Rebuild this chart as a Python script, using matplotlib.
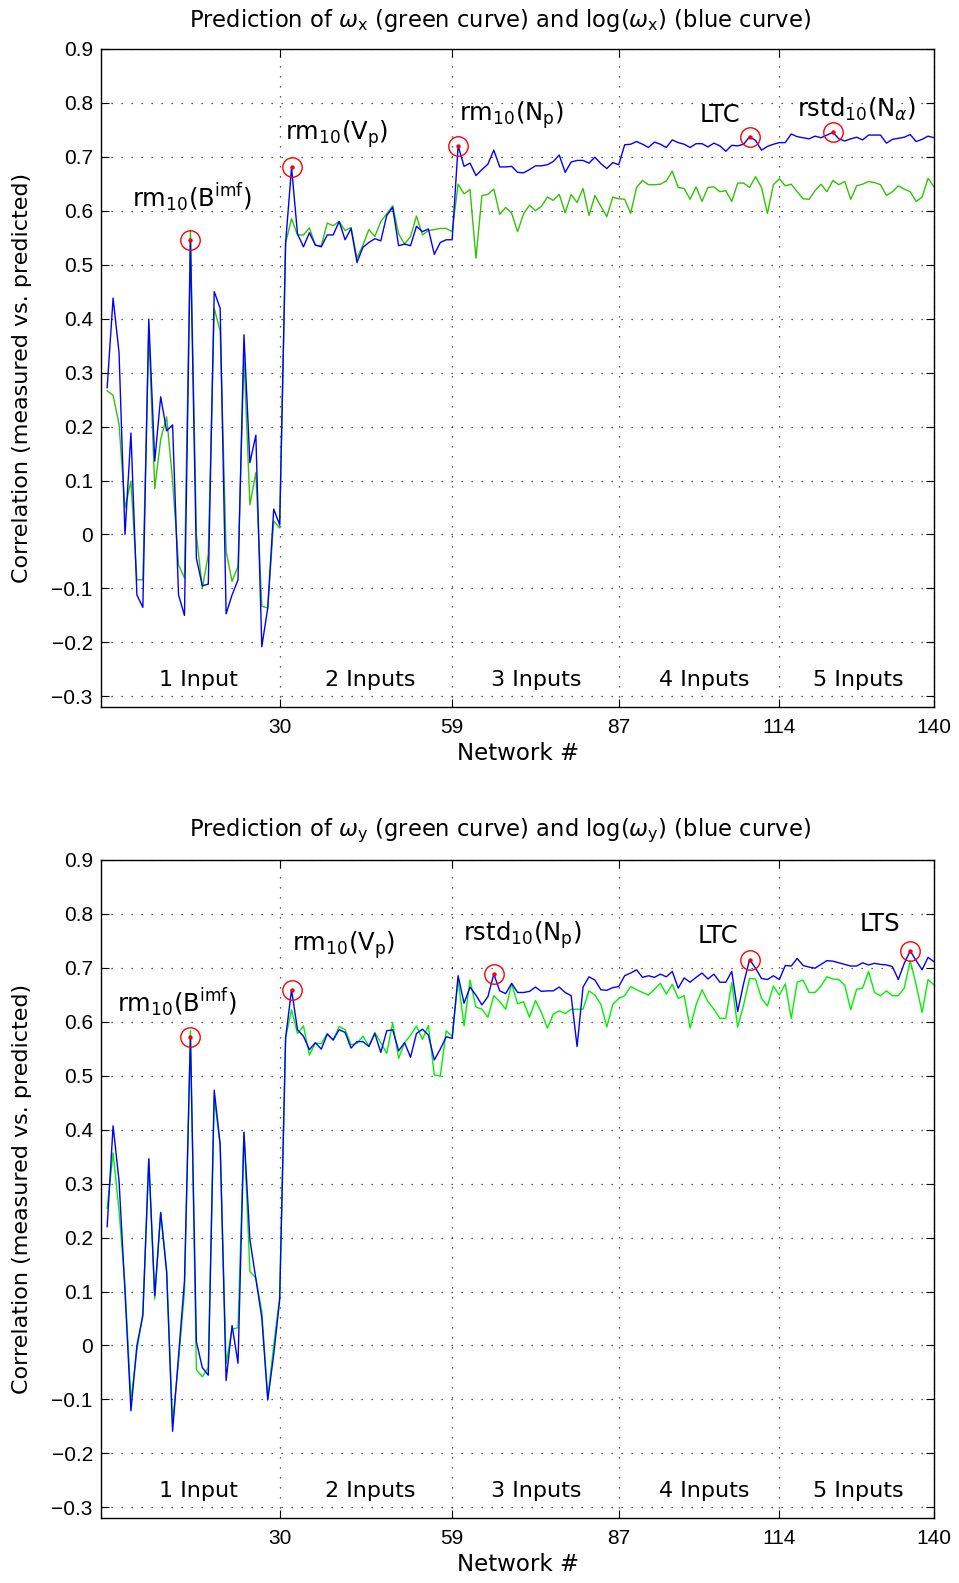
import matplotlib
matplotlib.use("Agg")
import matplotlib.pyplot as plt
import numpy as np

plt.rcParams['font.family'] = ['DejaVu Sans']
plt.rcParams['mathtext.fontset'] = 'dejavusans'

# ---------------- data ----------------
networks = list(range(1, 141))

# top panel: omega_x
blue_x = [0.272, 0.438, 0.337, 0.000, 0.188, -0.112, -0.135, 0.399, 0.136, 0.255,
          0.192, 0.203, -0.112, -0.150, 0.545, -0.044, -0.095, -0.092, 0.450, 0.419,
          -0.147, -0.112, -0.084, 0.370, 0.133, 0.184, -0.208, -0.136, 0.047, 0.018,
          0.540, 0.680, 0.557, 0.533, 0.559, 0.536, 0.533, 0.555, 0.555, 0.580,
          0.546, 0.567, 0.504, 0.532, 0.541, 0.548, 0.544, 0.591, 0.606, 0.535,
          0.538, 0.535, 0.571, 0.561, 0.566, 0.519, 0.541, 0.546, 0.546, 0.720,
          0.682, 0.688, 0.665, 0.676, 0.686, 0.712, 0.681, 0.681, 0.682, 0.671,
          0.670, 0.676, 0.683, 0.683, 0.685, 0.691, 0.703, 0.671, 0.690, 0.693,
          0.693, 0.688, 0.699, 0.687, 0.678, 0.689, 0.685, 0.722, 0.723, 0.728,
          0.723, 0.717, 0.727, 0.723, 0.717, 0.731, 0.726, 0.723, 0.717, 0.724,
          0.724, 0.718, 0.725, 0.720, 0.710, 0.721, 0.720, 0.723, 0.737, 0.730,
          0.712, 0.719, 0.723, 0.726, 0.726, 0.742, 0.737, 0.735, 0.733, 0.738,
          0.735, 0.740, 0.745, 0.733, 0.729, 0.733, 0.736, 0.731, 0.740, 0.740,
          0.740, 0.725, 0.732, 0.734, 0.736, 0.741, 0.728, 0.732, 0.738, 0.735]

green_x = [0.266, 0.258, 0.204, 0.049, 0.099, -0.084, -0.084, 0.377, 0.085, 0.176,
           0.218, 0.100, -0.056, -0.081, 0.563, 0.000, -0.100, -0.037, 0.419, 0.377,
           -0.031, -0.087, -0.059, 0.331, 0.055, 0.115, -0.133, -0.136, 0.025, 0.012,
           0.540, 0.585, 0.555, 0.555, 0.568, 0.536, 0.535, 0.577, 0.572, 0.580,
           0.563, 0.569, 0.512, 0.536, 0.565, 0.552, 0.580, 0.594, 0.609, 0.557,
           0.538, 0.552, 0.590, 0.555, 0.563, 0.565, 0.567, 0.567, 0.561, 0.649,
           0.631, 0.639, 0.512, 0.628, 0.630, 0.640, 0.593, 0.606, 0.595, 0.561,
           0.594, 0.610, 0.600, 0.608, 0.625, 0.619, 0.630, 0.596, 0.630, 0.615,
           0.641, 0.591, 0.628, 0.608, 0.589, 0.625, 0.622, 0.621, 0.595, 0.643,
           0.656, 0.648, 0.648, 0.649, 0.655, 0.673, 0.643, 0.641, 0.621, 0.644,
           0.617, 0.643, 0.644, 0.635, 0.637, 0.617, 0.651, 0.651, 0.643, 0.663,
           0.643, 0.595, 0.648, 0.659, 0.646, 0.649, 0.635, 0.622, 0.621, 0.637,
           0.649, 0.635, 0.656, 0.648, 0.654, 0.621, 0.646, 0.649, 0.654, 0.652,
           0.648, 0.628, 0.635, 0.646, 0.640, 0.635, 0.617, 0.625, 0.660, 0.644]

# bottom panel: omega_y
blue_y = [0.220, 0.407, 0.305, 0.100, -0.121, 0.000, 0.055, 0.346, 0.092, 0.246,
          0.136, -0.159, -0.020, 0.120, 0.572, 0.007, -0.041, -0.055, 0.473, 0.373,
          -0.065, 0.037, -0.033, 0.395, 0.196, 0.124, 0.051, -0.101, -0.017, 0.084,
          0.570, 0.659, 0.585, 0.573, 0.548, 0.561, 0.549, 0.577, 0.566, 0.585,
          0.580, 0.551, 0.563, 0.563, 0.554, 0.578, 0.543, 0.583, 0.585, 0.546,
          0.561, 0.534, 0.578, 0.586, 0.575, 0.529, 0.549, 0.572, 0.569, 0.685,
          0.634, 0.664, 0.649, 0.631, 0.646, 0.688, 0.657, 0.652, 0.671, 0.654,
          0.654, 0.656, 0.664, 0.656, 0.657, 0.657, 0.664, 0.654, 0.648, 0.554,
          0.664, 0.683, 0.677, 0.659, 0.658, 0.663, 0.665, 0.685, 0.690, 0.696,
          0.682, 0.685, 0.682, 0.688, 0.683, 0.693, 0.662, 0.681, 0.673, 0.682,
          0.690, 0.679, 0.688, 0.673, 0.673, 0.693, 0.619, 0.671, 0.715, 0.699,
          0.680, 0.678, 0.685, 0.678, 0.704, 0.703, 0.717, 0.704, 0.701, 0.699,
          0.706, 0.713, 0.712, 0.709, 0.706, 0.703, 0.703, 0.709, 0.705, 0.708,
          0.706, 0.705, 0.702, 0.678, 0.708, 0.731, 0.713, 0.696, 0.719, 0.711]

green_y = [0.254, 0.357, 0.250, 0.110, -0.101, -0.010, 0.060, 0.345, 0.086, 0.247,
           0.140, -0.145, -0.030, 0.100, 0.584, -0.045, -0.058, -0.041, 0.460, 0.370,
           -0.033, 0.030, 0.033, 0.395, 0.137, 0.125, 0.063, -0.097, 0.000, 0.090,
           0.570, 0.622, 0.578, 0.592, 0.538, 0.560, 0.559, 0.578, 0.566, 0.591,
           0.585, 0.557, 0.560, 0.573, 0.555, 0.580, 0.561, 0.541, 0.598, 0.532,
           0.561, 0.575, 0.592, 0.567, 0.593, 0.501, 0.499, 0.583, 0.573, 0.677,
           0.592, 0.677, 0.627, 0.623, 0.608, 0.648, 0.637, 0.623, 0.670, 0.633,
           0.637, 0.608, 0.639, 0.617, 0.588, 0.614, 0.620, 0.615, 0.623, 0.623,
           0.623, 0.657, 0.649, 0.632, 0.590, 0.632, 0.643, 0.648, 0.665, 0.659,
           0.654, 0.649, 0.660, 0.671, 0.651, 0.669, 0.643, 0.648, 0.588, 0.631,
           0.659, 0.637, 0.623, 0.606, 0.606, 0.672, 0.590, 0.631, 0.680, 0.679,
           0.643, 0.629, 0.666, 0.649, 0.670, 0.606, 0.673, 0.677, 0.654, 0.654,
           0.666, 0.683, 0.679, 0.678, 0.667, 0.622, 0.660, 0.662, 0.693, 0.654,
           0.648, 0.657, 0.648, 0.648, 0.662, 0.713, 0.668, 0.617, 0.678, 0.668]

# highlighted networks and their labels
hl_x = [15, 32, 60, 109, 123]
hl_x_labels = [r'rm$_{10}$(B$^{\mathrm{imf}}$)', r'rm$_{10}$(V$_{\mathrm{p}}$)',
               r'rm$_{10}$(N$_{\mathrm{p}}$)', 'LTC', r'rstd$_{10}$(N$_{\alpha}$)']
hl_x_label_pos = [(15.2, 0.624), (39.5, 0.742), (69.0, 0.776), (104.0, 0.778), (127.0, 0.788)]

hl_y = [15, 32, 66, 109, 136]
hl_y_labels = [r'rm$_{10}$(B$^{\mathrm{imf}}$)', r'rm$_{10}$(V$_{\mathrm{p}}$)',
               r'rstd$_{10}$(N$_{\mathrm{p}}$)', 'LTC', 'LTS']
hl_y_label_pos = [(12.7, 0.636), (40.7, 0.742), (70.8, 0.760), (103.7, 0.758), (130.9, 0.780)]

group_labels = ['1 Input', '2 Inputs', '3 Inputs', '4 Inputs', '5 Inputs']
group_centers = [16.3, 45.3, 73.1, 101.3, 127.3]

xticks = [30, 59, 87, 114, 140]
yticks = [-0.3, -0.2, -0.1, 0.0, 0.1, 0.2, 0.3, 0.4, 0.5, 0.6, 0.7, 0.8, 0.9]
ytick_labels = ['\u22120.3', '\u22120.2', '\u22120.1', '0', '0.1', '0.2', '0.3',
                '0.4', '0.5', '0.6', '0.7', '0.8', '0.9']

titles = [r'Prediction of $\omega_{\mathrm{x}}$ (green curve) and log($\omega_{\mathrm{x}}$) (blue curve)',
          r'Prediction of $\omega_{\mathrm{y}}$ (green curve) and log($\omega_{\mathrm{y}}$) (blue curve)']

# ---------------- figure ----------------
W, H = 959, 1583
fig = plt.figure(figsize=(W / 100, H / 100), dpi=100)

ax_left = 101.2 / W
ax_w = (934.0 - 101.2) / W
ax_h = 658.5 / H
positions = [1 - 707.2 / H, 1 - 1518.2 / H]

panels = [
    (blue_x, green_x, '#2fc400', hl_x, hl_x_labels, hl_x_label_pos, titles[0]),
    (blue_y, green_y, '#00f000', hl_y, hl_y_labels, hl_y_label_pos, titles[1]),
]

for (bl, gr, gcol, hl, hl_labels, hl_pos, ttl), bottom in zip(panels, positions):
    ax = fig.add_axes([ax_left, bottom, ax_w, ax_h])
    ax.plot(networks, bl, color='#0000ff', lw=1.0, zorder=3)
    ax.plot(networks, gr, color=gcol, lw=1.0, zorder=2)

    hx = [networks[i - 1] for i in hl]
    hy = [bl[i - 1] for i in hl]
    ax.plot(hx, hy, 'o', mfc='none', mec='#ff0000', ms=14, mew=1.0, zorder=5)
    ax.plot(hx, hy, 'o', color='#ff0000', ms=3.2, mew=0, zorder=6)

    for lab, (px, py) in zip(hl_labels, hl_pos):
        ax.text(px, py, lab, ha='center', va='center', fontsize=17.5)

    for lab, cx in zip(group_labels, group_centers):
        ax.text(cx, -0.27, lab, ha='center', va='center', fontsize=16)

    ax.set_xlim(0, 140)
    ax.set_ylim(-0.32, 0.9)
    ax.set_xticks(xticks)
    ax.set_xticklabels([str(t) for t in xticks], fontfamily='Liberation Sans', fontsize=15)
    ax.set_yticks(yticks)
    ax.set_yticklabels(ytick_labels, fontfamily='Liberation Sans', fontsize=15)
    ax.tick_params(direction='in', top=True, right=True, length=6, width=0.8)
    ax.tick_params(axis='x', pad=7.5)
    ax.tick_params(axis='y', pad=6)
    ax.grid(True, color='0.15', linestyle=(0, (1, 7)), lw=0.9)
    for sp in ax.spines.values():
        sp.set_linewidth(1.0)

    ax.text(0.479, 1 + 28.5 / 658.5, ttl, transform=ax.transAxes,
            ha='center', va='center', fontsize=16.3)
    ax.text(0.5, -46.5 / 658.5, 'Network #', transform=ax.transAxes,
            ha='center', va='center', fontsize=16.5)
    ax.text(-(101.2 - 22.0) / 832.8, 0.5, 'Correlation (measured vs. predicted)',
            transform=ax.transAxes, rotation=90, ha='center', va='center', fontsize=16)

fig.savefig('out.png', dpi=100)
